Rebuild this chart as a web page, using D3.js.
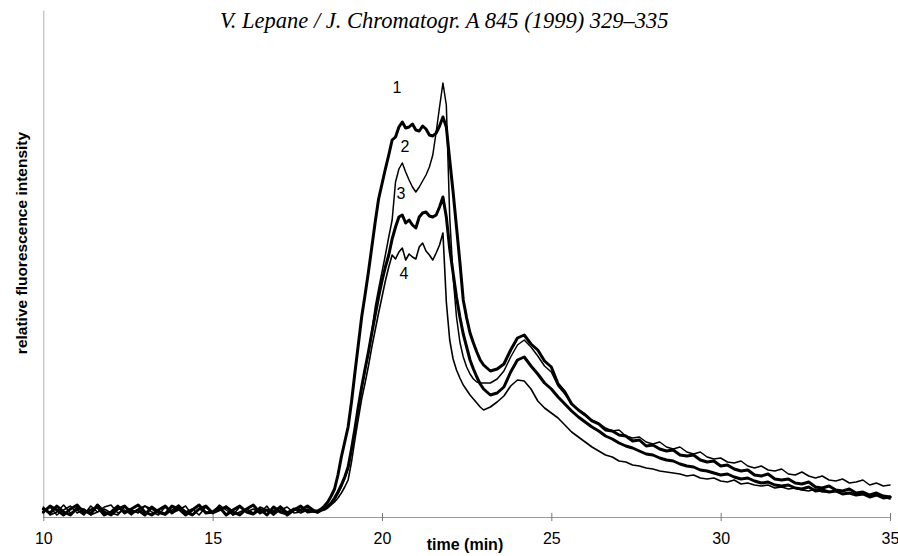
<!DOCTYPE html>
<html>
<head>
<meta charset="utf-8">
<script src="https://cdn.jsdelivr.net/npm/d3@7"></script>
<style>
  body { margin: 0; background: #fff; }
  svg text { fill: #000; }
</style>
</head>
<body>
<div id="container"></div>
<script>
// retention time (min) of every sample, shared by the four runs
const times = [
  10,10.2,10.4,10.6,10.8,11,11.2,11.4,11.6,11.8,
  12,12.2,12.4,12.6,12.8,13,13.2,13.4,13.6,13.8,
  14,14.2,14.4,14.6,14.8,15,15.2,15.4,15.6,15.8,
  16,16.2,16.4,16.6,16.8,17,17.2,17.4,17.6,17.8,
  18,
  18.1,18.2,18.3,18.4,18.5,18.6,18.7,18.8,18.9,
  19,19.1,19.2,19.3,19.4,19.5,19.6,19.7,19.8,19.9,
  20,20.1,20.2,20.3,20.4,20.5,20.6,20.7,20.8,20.9,
  21,21.1,21.2,21.3,21.4,21.5,21.6,21.7,21.8,21.9,
  22,22.1,22.2,22.3,22.4,22.5,22.6,22.7,22.8,22.9,
  23,
  23.2,23.4,23.6,23.8,24,24.2,24.4,24.6,24.8,25,
  25.2,25.4,25.6,25.8,26,26.2,26.4,26.6,26.8,27,
  27.2,27.4,27.6,27.8,28,28.2,28.4,28.6,28.8,29,
  29.2,29.4,29.6,29.8,30,30.2,30.4,30.6,30.8,31,
  31.2,31.4,31.6,31.8,32,32.2,32.4,32.6,32.8,33,
  33.2,33.4,33.6,33.8,34,34.2,34.4,34.6,34.8,35
];

// relative fluorescence intensity (arbitrary units)
const run1 = [
  8,4,11,5,2,9,7,3,12,5, 2,8,11,4,7,2,10,5,3,11, 8,2,7,12,4,5,10,2,7,11, 5,3,8,2,10,5,3,8,7,11, 6,
  6,8,11,15,21,28,42,60,75,
  90,115,144,172,200,222,245,270,295,318,
  333,348,362,377,380,390,395,389,390,393,
  387,386,391,388,382,381,384,391,400,390,
  357,325,290,255,217,199,184,174,165,157,
  152,
  146,148,153,167,179,182,173,167,156,150,
  133,125,113,107,102,96,93,87,86,82,
  81,76,77,71,72,68,66,67,62,61,
  62,57,55,56,51,52,48,46,47,42,
  41,43,38,37,38,34,33,35,30,29,
  31,27,26,28,24,25,22,24,21,20
];
const run2 = [
  4,10,2,7,11,4,8,2,5,10, 12,4,7,2,8,11,5,2,10,4, 7,11,2,8,5,4,12,7,2,10, 5,8,4,11,2,7,10,4,5,8, 5,
  5,7,8,10,13,17,23,30,38,
  48,66,86,108,128,146,164,186,210,228,
  245,262,280,297,335,348,354,345,337,330,
  325,330,336,342,350,362,385,410,434,412,
  300,240,200,175,160,150,143,138,135,134,
  134,
  134,138,146,160,172,177,170,161,151,145,
  131,123,114,107,103,97,94,89,86,87,
  81,79,80,75,73,75,70,68,70,65,
  63,65,60,58,59,55,54,56,51,49,
  51,47,46,48,43,42,45,41,39,41,
  37,36,38,34,35,37,32,34,31,32
];
const run3 = [
  5,11,7,2,8,12,4,7,10,2, 5,11,4,8,12,5,2,7,11,4, 10,5,2,8,11,4,7,10,5,2, 8,12,4,7,5,10,2,7,11,5, 6,
  5,7,9,11,14,19,25,32,40,
  50,68,88,110,130,148,165,184,202,220,
  236,250,262,278,290,300,302,294,297,292,
  289,300,304,305,301,300,302,310,320,300,
  268,244,220,200,183,170,157,148,140,133,
  128,
  122,124,130,145,157,160,151,143,134,128,
  120,113,106,100,95,90,86,81,78,74,
  71,69,66,63,62,59,57,56,53,51,
  50,47,46,44,42,43,40,38,39,36,
  34,35,32,31,32,29,28,30,26,27,
  25,26,23,24,22,23,20,22,19,20
];
const run4 = [
  10,2,5,12,4,7,2,11,5,8, 4,2,10,7,4,11,8,4,2,7, 12,5,8,2,10,4,7,11,2,5, 8,4,10,7,2,11,5,8,4,7, 5,
  4,6,7,9,12,15,19,24,30,
  37,55,77,98,118,134,151,170,187,204,
  220,236,250,262,258,265,269,257,263,260,
  258,270,274,266,262,257,264,272,284,215,
  177,158,147,139,132,127,122,118,114,110,
  107,
  110,115,121,131,137,136,128,116,109,104,
  99,92,85,80,75,70,66,62,60,56,
  55,52,51,49,48,46,45,44,43,41,
  42,39,38,39,36,35,37,33,34,32,
  31,32,29,30,28,29,27,26,28,25,
  25,26,23,24,22,23,21,22,20,18
];

const xTicks = [10, 15, 20, 25, 30, 35];
const runNames = ["1", "2", "3", "4"];
// where each run number is written, in data units (time, intensity)
const labelTimes = [20.44, 20.68, 20.56, 20.65];
const labelValues = [424, 365, 318, 238];

const widthSVG = 898, heightSVG = 556;

const svg = d3.select('#container')
  .append('svg')
  .attr('width', widthSVG)
  .attr('height', heightSVG);

const x = d3.scaleLinear().domain([10, 35]).range([43.3, 890]);
const y = d3.scaleLinear().domain([0, 507]).range([517, 10]);

// journal running head
svg.append('text')
  .attr('x', 220)
  .attr('y', 28)
  .style('font-family', '"Liberation Serif", "Times New Roman", serif')
  .style('font-style', 'italic')
  .style('font-size', '22.5px')
  .text('V. Lepane / J. Chromatogr. A 845 (1999) 329\u2013335');

// y axis: only a plain grey line
svg.append('g')
  .attr('transform', `translate(${x(10)},0)`)
  .call(d3.axisLeft(y).tickValues([]).tickSizeOuter(0))
  .call(g => g.select('.domain').attr('stroke', '#b0b0b0'));

// x axis with ticks crossing the line
const xAxis = svg.append('g')
  .attr('transform', `translate(0,${y(0)})`)
  .call(d3.axisBottom(x).tickValues(xTicks).tickSizeInner(4).tickSizeOuter(0).tickPadding(12));

xAxis.select('.domain').attr('stroke', '#999');
xAxis.selectAll('.tick line').attr('y1', -4).attr('y2', 4).attr('stroke', '#777');
xAxis.selectAll('.tick text')
  .style('font-family', '"Liberation Sans", Arial, sans-serif')
  .style('font-size', '16px');

svg.append('text')
  .attr('x', 465)
  .attr('y', 550)
  .attr('text-anchor', 'middle')
  .style('font-family', '"Liberation Sans", Arial, sans-serif')
  .style('font-weight', 'bold')
  .style('font-size', '16px')
  .text('time (min)');

svg.append('text')
  .attr('transform', 'translate(27,243) rotate(-90)')
  .attr('text-anchor', 'middle')
  .style('font-family', '"Liberation Sans", Arial, sans-serif')
  .style('font-weight', 'bold')
  .style('font-size', '15.5px')
  .text('relative fluorescence intensity');

// the four chromatograms
const runs = [run1, run2, run3, run4];
const strokeWidths = [3, 1.5, 3, 1.6];

runs.forEach((r, k) => {
  if (r.length !== times.length) console.error('length mismatch in run', k + 1, r.length);
});

const line = d3.line()
  .x((d, i) => x(times[i]))
  .y(d => y(d));

svg.append('g')
  .selectAll('path')
  .data(runs)
  .enter()
  .append('path')
  .attr('d', line)
  .attr('fill', 'none')
  .attr('stroke', '#000')
  .attr('stroke-width', (d, i) => strokeWidths[i])
  .attr('stroke-linejoin', 'round')
  .attr('stroke-linecap', 'round');

// run numbers
svg.append('g')
  .selectAll('text')
  .data(runNames)
  .enter()
  .append('text')
  .attr('x', (d, i) => x(labelTimes[i]))
  .attr('y', (d, i) => y(labelValues[i]))
  .attr('text-anchor', 'middle')
  .style('font-family', '"Liberation Sans", Arial, sans-serif')
  .style('font-size', '16px')
  .text(d => d);
</script>
</body>
</html>
